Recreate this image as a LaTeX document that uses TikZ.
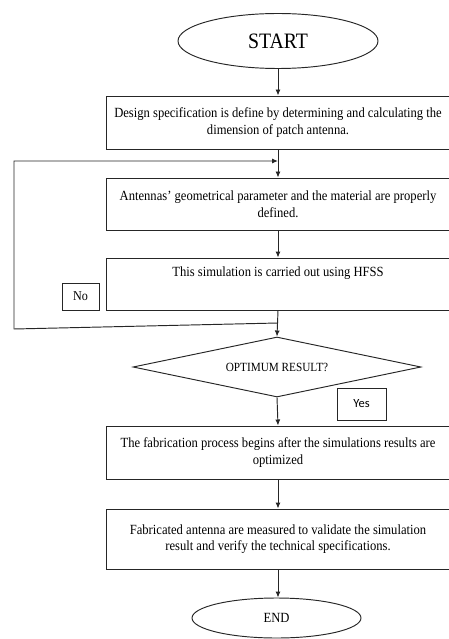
\documentclass[tikz,border=0pt]{standalone}
\usepackage{fontspec}
\setmainfont{Liberation Serif}[FakeStretch=0.9]
\newfontfamily\yesfont{Carlito}
\usetikzlibrary{shapes.geometric,arrows.meta}
\begin{document}
\begin{tikzpicture}[x=1pt,y=-1pt,line width=0.95pt,
  every node/.style={draw=black!85},
  box/.style={rectangle,minimum width=344pt,inner sep=0pt,align=center,
    font=\fontsize{14}{16.5}\selectfont},
  arr/.style={draw=black!85,-{Latex[length=6pt,width=5pt]}},
  ln/.style={draw=black!85}]
\useasboundingbox (0,0) rectangle (449,639);
\node[ellipse,minimum width=200pt,minimum height=55pt,inner sep=0pt,
  font=\fontsize{22}{26}\selectfont] (start) at (278,41) {START};
\node[box,minimum height=53pt] (b1) at (278,122.5)
  {Design specification is define by determining and calculating the\\dimension of patch antenna.};
\node[box,minimum height=52pt] (b2) at (278,204)
  {Antennas' geometrical parameter and the material are properly\\defined.};
\node[box,minimum height=52pt] (b3) at (278,284) {};
\node[draw=none,anchor=north,inner sep=0pt,font=\fontsize{14}{16.5}\selectfont] (b3t) at (278,266) {This simulation is carried out using HFSS};
\node[rectangle,minimum width=37pt,minimum height=27pt,inner sep=0pt,
  font=\fontsize{13.5}{15}\selectfont] (no) at (80.5,296.5) {No};
\node[diamond,shape aspect=4.8,minimum width=288pt,minimum height=60pt,inner sep=0pt,
  font=\fontsize{12.5}{15}\selectfont] (dia) at (277,367) {OPTIMUM RESULT?};
\node[rectangle,minimum width=49pt,minimum height=32pt,inner sep=0pt,
  font=\yesfont\fontsize{12.5}{15}\selectfont] (yes) at (361.5,404) {Yes};
\node[box,minimum height=53pt] (b4) at (278,452.5)
  {The fabrication process begins after the simulations results are\\optimized};
\node[box,minimum height=60pt] (b5) at (278,539)
  {Fabricated antenna are measured to validate the simulation\\result and verify the technical specifications.};
\node[ellipse,minimum width=169pt,minimum height=40pt,inner sep=0pt,
  font=\fontsize{14}{16}\selectfont] (end) at (276.5,618) {END};
\coordinate (fb1) at (278,323);
\coordinate (fb2) at (14,329);
\coordinate (fb3) at (14,161);
\coordinate (fb4) at (278,161);
\draw[arr] (start.south) -- (start.south |- b1.north);
\draw[arr] (b1.south) -- (b2.north);
\draw[arr] (b2.south) -- (b3.north);
\draw[arr] (b3.south) -- (dia.north);
\draw[arr] (fb1) -- (fb2) -- (fb3) -- (fb4);
\draw[arr] (dia.south) -- (b4.north);
\draw[arr] (b4.south) -- (b5.north);
\draw[arr] (b5.south) -- (b5.south |- end.north);
\end{tikzpicture}
\end{document}
